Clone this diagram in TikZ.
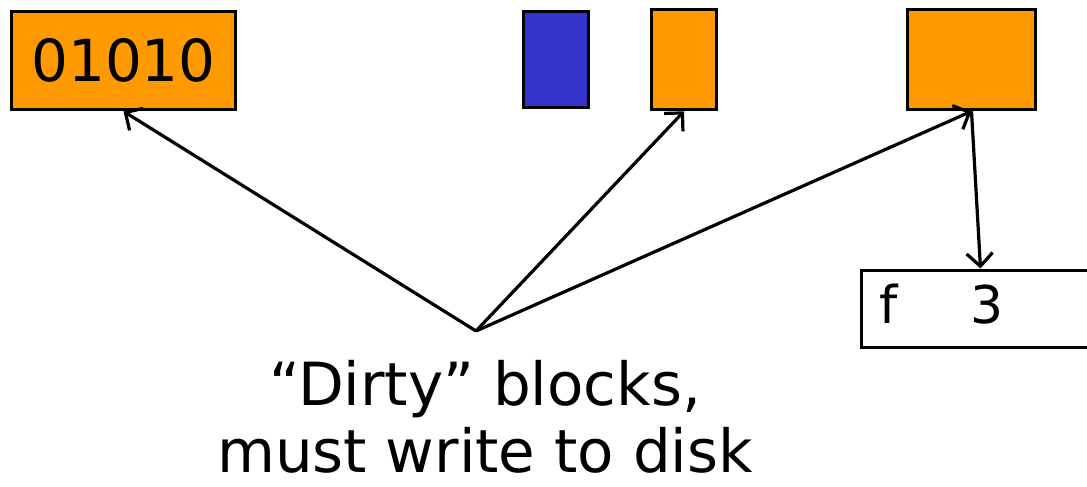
\documentclass[tikz,border=0pt]{standalone}
\usepackage{fontspec}
\setmainfont{DejaVu Sans}
\usetikzlibrary{arrows.meta}
\definecolor{blockorange}{RGB}{255,153,0}
\definecolor{blockblue}{RGB}{51,51,204}
\tikzset{
  block/.style={draw=black, line width=3.6pt, rectangle, inner sep=0pt},
  dirty/.style={block, fill=blockorange},
  clean/.style={block, fill=blockblue},
  ptr/.style={line width=3.2pt, -{Straight Barb[length=13pt,width=26pt]}},
  big/.style={font=\fontsize{59.5}{67}\selectfont},
}
\begin{document}
\begin{tikzpicture}[x=1pt,y=-1pt]
  \useasboundingbox (0,0) rectangle (1087,487);

  % cached blocks
  \node[dirty, minimum width=224pt, minimum height=98pt, font=\fontsize{58}{58}\selectfont]
    (data) at (123.5,60.5) {01010};
  \node[clean, minimum width=65pt, minimum height=96pt] (blue) at (556,59.5) {};
  \node[dirty, minimum width=65pt, minimum height=100pt] (small) at (684,59.5) {};
  \node[dirty, minimum width=128pt, minimum height=100pt] (inode) at (971.5,59.5) {};

  % directory entry
  \node[block, line width=3pt, fill=white, minimum width=260pt, minimum height=77pt, anchor=north west]
    (entry) at (859.5,268.5) {};
  \node[font=\fontsize{52}{52}\selectfont, anchor=base] (fname) at (889,323) {f};
  \node[font=\fontsize{52}{52}\selectfont, anchor=base] (fnum) at (987,323) {3};

  % caption
  \node[big, align=center, anchor=base, inner sep=0pt] (cap) at (485,472)
    {“Dirty” blocks,\\must write to disk};
  \coordinate (apex) at (476,331);

  \draw[ptr] (apex) -- (data.south);
  \draw[ptr] (apex) -- (small.south);
  \draw[ptr] (apex) -- (inode.south);
  \draw[ptr] (inode.south) -- ([xshift=121pt]entry.north west);
\end{tikzpicture}
\end{document}
